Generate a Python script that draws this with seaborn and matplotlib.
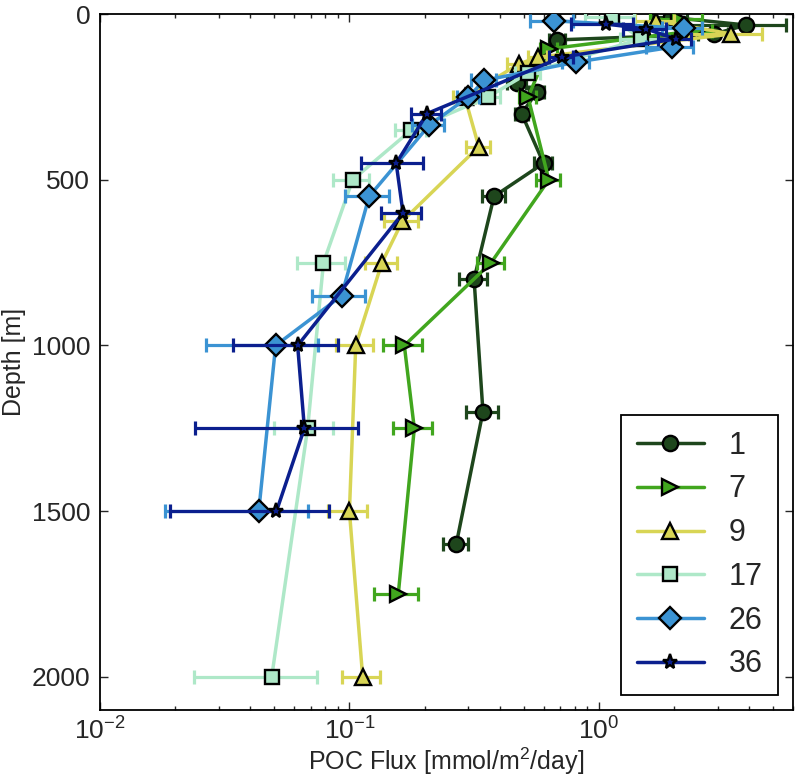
import numpy as np
import pandas as pd
import matplotlib
matplotlib.use("Agg")
import matplotlib.pyplot as plt
import seaborn as sns

# station profiles: depth [m], POC flux [mmol/m2/day], flux error
depth_1 = [10, 33, 60, 78, 208, 235, 300, 450, 550, 800, 1200, 1600]
flux_1 = [1.95, 3.9, 2.9, 0.68, 0.47, 0.565, 0.49, 0.60, 0.38, 0.316, 0.343, 0.268]
err_1 = [0.3, 1.7, 0.4, 0.05, 0.04, 0.04, 0.03, 0.05, 0.04, 0.04, 0.05, 0.03]

depth_7 = [15, 50, 105, 250, 500, 750, 1000, 1250, 1750]
flux_7 = [2.1, 2.45, 0.63, 0.52, 0.63, 0.37, 0.166, 0.182, 0.157]
err_7 = [0.5, 0.4, 0.05, 0.04, 0.07, 0.045, 0.03, 0.032, 0.031]

depth_9 = [20, 60, 130, 150, 250, 400, 625, 750, 1000, 1500, 2000]
flux_9 = [1.7, 3.4, 0.57, 0.48, 0.29, 0.33, 0.163, 0.135, 0.106, 0.10, 0.113]
err_9 = [0.3, 1.1, 0.05, 0.05, 0.03, 0.036, 0.026, 0.02, 0.018, 0.018, 0.02]

depth_17 = [10, 75, 178, 250, 350, 500, 750, 1250, 2000]
flux_17 = [1.13, 1.47, 0.52, 0.36, 0.177, 0.103, 0.0787, 0.068, 0.0488]
err_17 = [0.25, 0.25, 0.06, 0.04, 0.025, 0.017, 0.017, 0.018, 0.025]

depth_26 = [20, 43, 100, 145, 200, 250, 335, 550, 850, 1000, 1500]
flux_26 = [0.66, 2.19, 1.96, 0.81, 0.347, 0.30, 0.209, 0.120, 0.093, 0.0506, 0.0433]
err_26 = [0.13, 0.4, 0.42, 0.1, 0.04, 0.03, 0.03, 0.024, 0.022, 0.024, 0.025]

depth_36 = [30, 45, 75, 130, 300, 450, 600, 1000, 1250, 1500]
flux_36 = [1.07, 1.55, 2.03, 0.71, 0.205, 0.154, 0.164, 0.062, 0.066, 0.051]
err_36 = [0.3, 0.3, 0.3, 0.08, 0.028, 0.043, 0.03, 0.028, 0.042, 0.032]

stations = ["1", "7", "9", "17", "26", "36"]
depths = [depth_1, depth_7, depth_9, depth_17, depth_26, depth_36]
fluxes = [flux_1, flux_7, flux_9, flux_17, flux_26, flux_36]
errors = [err_1, err_7, err_9, err_17, err_26, err_36]
colors = ["#1e461c", "#41a61e", "#d8d555", "#aee8c8", "#3b93d3", "#0b1f8e"]
markers = ["o", ">", "^", "s", "D", "*"]
msizes = [11, 11, 11, 10, 11, 11]

sns.set_style("ticks", {"xtick.direction": "in", "ytick.direction": "in",
                        "axes.edgecolor": "black"})
plt.rcParams['font.family'] = ['Liberation Sans', 'DejaVu Sans']
plt.rcParams['mathtext.fontset'] = 'custom'
plt.rcParams['mathtext.rm'] = 'Liberation Sans'
plt.rcParams['mathtext.it'] = 'Liberation Sans:italic'

fig = plt.figure(figsize=(7.96, 7.83), dpi=100)
ax = fig.add_axes([0.1256, 0.0932, 0.8706, 0.8888])

for i, st in enumerate(stations):
    df = pd.DataFrame({"depth": depths[i], "flux": fluxes[i]})
    ax.errorbar(df["flux"], df["depth"], xerr=errors[i], fmt="none",
                ecolor=colors[i], elinewidth=2.3, capsize=5, capthick=2.3,
                zorder=2 + i)
    sns.lineplot(data=df, x="flux", y="depth", sort=False, estimator=None,
                 color=colors[i], marker=markers[i], ms=msizes[i],
                 mec="black", mew=1.7, lw=2.5, label=st, ax=ax, zorder=2 + i)

ax.set_xscale("log")
ax.set_xlim(0.01, 6)
ax.set_ylim(2100, 0)
ax.set_yticks([0, 500, 1000, 1500, 2000])
ax.tick_params(which="both", top=True, right=True, labelsize=19)
ax.tick_params(axis="x", pad=5)
ax.tick_params(axis="y", pad=7)
ax.tick_params(which="major", length=6, width=1)
ax.tick_params(which="minor", length=3, width=1)
for s in ax.spines.values():
    s.set_linewidth(1.3)

ax.set_xlabel("POC Flux [mmol/m$^2$/day]", fontsize=18, labelpad=1)
ax.set_ylabel("Depth [m]", fontsize=18, labelpad=4)

leg = ax.legend(loc="lower right", fontsize=22, frameon=True, fancybox=False,
                framealpha=1, edgecolor="black", handlelength=2.2,
                borderpad=0.5, labelspacing=0.45)
leg.get_frame().set_linewidth(1.3)

fig.savefig("out.png", dpi=100)
